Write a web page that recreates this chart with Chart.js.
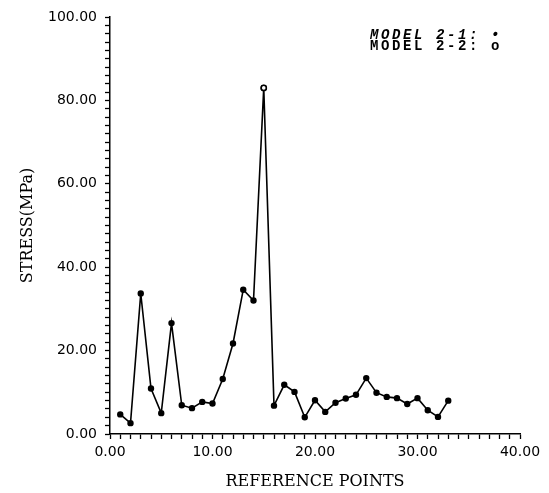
<!DOCTYPE html>
<html>
<head>
<meta charset="utf-8">
<script src="https://cdn.jsdelivr.net/npm/chart.js@4/dist/chart.umd.min.js"></script>
<style>
    html, body { margin: 0; padding: 0; background: #fff; }
    .wrap { position: relative; width: 549px; height: 493px; }
    .legend {
        position: absolute; left: 370px; top: 30px;
        font-family: "Liberation Mono", monospace; font-weight: bold;
        font-size: 14px; line-height: 11px; letter-spacing: 2.6px; color: #000;
    }
    .legend .l1 { font-style: italic; }
</style>
</head>
<body>
<div class="wrap">
    <canvas id="myChart" width="549" height="493"></canvas>
    <div class="legend">
        <div class="l1">MODEL 2-1: &bull;</div>
        <div>MODEL 2-2: o</div>
    </div>
</div>
<script>
// Reference points along the x axis
const refPoints = [1, 2, 3, 4, 5, 6, 7, 8, 9, 10, 11, 12, 13, 14, 15, 16, 17,
    18, 19, 20, 21, 22, 23, 24, 25, 26, 27, 28, 29, 30, 31, 32, 33];

// MODEL 2-1 stress (MPa)
const model21 = [4.7, 2.6, 33.7, 10.9, 5.0, 26.6, 6.9, 6.2, 7.7, 7.3, 13.2, 21.7,
    34.6, 32.0, 83.0, 6.8, 11.8, 10.1, 4.0, 8.1, 5.3, 7.5, 8.5, 9.4, 13.4, 9.9,
    8.9, 8.6, 7.2, 8.6, 5.7, 4.1, 8.0];

// MODEL 2-2: only visible as the open circle on top of the peak
const model22Points = [15];
const model22 = [83.0];

// Axis ranges / tick labels
const xMin = 0, xMax = 40, xMajor = 10, xMinor = 1;
const yMin = 0, yMax = 100, yMajor = 20, yMinor = 2;

function fmt(v, major) {
    return (Math.abs(v % major) < 1e-9) ? v.toFixed(2) : '';
}

const tickFont = { family: '"DejaVu Sans", sans-serif', size: 14 };
const titleFont = { family: '"DejaVu Serif", serif', size: 16 };

const ctx = document.getElementById('myChart').getContext('2d');

new Chart(ctx, {
    type: 'line',
    data: {
        datasets: [
            {
                label: 'MODEL 2-2',
                data: model22Points.map((x, i) => ({ x: x, y: model22[i] })),
                showLine: false,
                pointRadius: 2.6,
                pointBorderWidth: 1.6,
                pointBackgroundColor: '#fff',
                pointBorderColor: '#000'
            },
            {
                label: 'MODEL 2-1',
                data: refPoints.map((x, i) => ({ x: x, y: model21[i] })),
                borderColor: '#000',
                borderWidth: 1.6,
                pointRadius: 2.4,
                pointBackgroundColor: '#000',
                pointBorderColor: '#000',
                tension: 0,
                fill: false
            }
        ]
    },
    options: {
        responsive: false,
        animation: false,
        layout: { padding: { top: 17, right: 29, left: 0, bottom: 0 } },
        plugins: {
            legend: { display: false },
            tooltip: { enabled: false }
        },
        scales: {
            x: {
                type: 'linear',
                min: xMin, max: xMax,
                afterFit: (s) => { s.height = 59; },
                border: { display: true, color: '#000', width: 1.5 },
                grid: { drawOnChartArea: false, drawTicks: true, tickLength: 5, tickColor: '#000', tickWidth: 1.3 },
                ticks: {
                    stepSize: xMinor, autoSkip: false, maxRotation: 0, padding: 5,
                    color: '#000', font: tickFont,
                    callback: (v) => fmt(v, xMajor)
                },
                title: {
                    display: true, text: 'REFERENCE POINTS', color: '#000',
                    font: titleFont,
                    padding: { top: 8, bottom: 2 }
                }
            },
            y: {
                type: 'linear',
                min: yMin, max: yMax,
                afterFit: (s) => { s.width = 110; },
                border: { display: true, color: '#000', width: 1.5 },
                grid: { drawOnChartArea: false, drawTicks: true, tickLength: 5, tickColor: '#000', tickWidth: 1.3 },
                ticks: {
                    stepSize: yMinor, autoSkip: false, padding: 8,
                    color: '#000', font: tickFont,
                    callback: (v) => fmt(v, yMajor)
                },
                title: {
                    display: true, text: 'STRESS(MPa)', color: '#000',
                    font: titleFont,
                    padding: { top: 18, bottom: 0 }
                }
            }
        }
    }
});
</script>
</body>
</html>
